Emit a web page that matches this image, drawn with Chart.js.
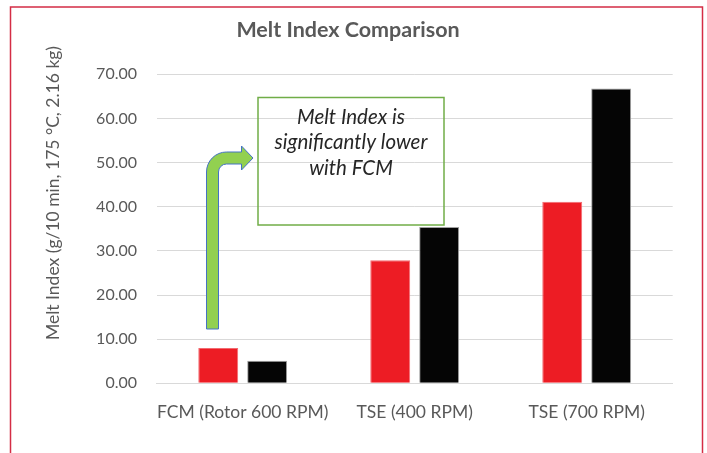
<!DOCTYPE html>
<html>
<head>
<meta charset="utf-8">
<script src="https://cdn.jsdelivr.net/npm/chart.js@4"></script>
<style>
    html, body { margin: 0; padding: 0; background: #fff; }
    #wrap { width: 707px; height: 453px; position: relative; }
</style>
</head>
<body>
<div id="wrap"><canvas id="melt-index"></canvas></div>
<script>
const categories = ['FCM (Rotor 600 RPM)', 'TSE (400 RPM)', 'TSE (700 RPM)'];
const redSeries = [8.0, 27.9, 41.1];
const blackSeries = [5.1, 35.4, 66.8];
const yTicks = [0, 10, 20, 30, 40, 50, 60, 70];
const noteLines = ['Melt Index is', 'significantly lower', 'with FCM'];
const yTitle = 'Melt Index (g/10 min, 175 °C, 2.16 kg)';

const grey = '#595959';

// frame, axis title, note box and bent arrow drawn over the chart
const overlay = {
    id: 'overlay',
    beforeDraw(chart) {
        const ctx = chart.ctx;
        ctx.save();
        ctx.strokeStyle = '#d42d45';
        ctx.lineWidth = 1.5;
        ctx.strokeRect(10.5, 7, 692, 460);
        ctx.restore();
    },
    afterDraw(chart) {
        const ctx = chart.ctx;
        ctx.save();

        // y axis title
        ctx.translate(53, 193);
        ctx.rotate(-Math.PI / 2);
        ctx.font = '17.5px Lato';
        ctx.fillStyle = grey;
        ctx.textAlign = 'center';
        ctx.textBaseline = 'middle';
        ctx.fillText(yTitle, 0, 0);
        ctx.setTransform(1, 0, 0, 1, 0, 0);

        // note box
        ctx.strokeStyle = '#70ad47';
        ctx.lineWidth = 1.5;
        ctx.strokeRect(258, 97.5, 186, 127.5);
        ctx.font = 'italic 20.5px Lato';
        ctx.fillStyle = '#262626';
        noteLines.forEach((t, i) => ctx.fillText(t, 351, 117 + i * 25.8));

        // bent up arrow
        ctx.beginPath();
        ctx.moveTo(206.5, 329);
        ctx.lineTo(206.5, 172);
        ctx.arcTo(206.5, 152, 226.5, 152, 20);
        ctx.lineTo(241.5, 152);
        ctx.lineTo(241.5, 146);
        ctx.lineTo(253, 158);
        ctx.lineTo(241.5, 170);
        ctx.lineTo(241.5, 164);
        ctx.lineTo(226.5, 164);
        ctx.arcTo(218.5, 164, 218.5, 172, 8);
        ctx.lineTo(218.5, 329);
        ctx.closePath();
        ctx.fillStyle = '#92d050';
        ctx.fill();
        ctx.strokeStyle = '#4472c4';
        ctx.lineWidth = 1;
        ctx.stroke();
        ctx.restore();
    }
};

const ctx = document.getElementById('melt-index').getContext('2d');
new Chart(ctx, {
    type: 'bar',
    data: {
        labels: categories,
        datasets: [
            {
                label: 'Series1',
                data: redSeries,
                backgroundColor: '#ed1c24',
                borderColor: '#f26a70',
                borderWidth: 1
            },
            {
                label: 'Series2',
                data: blackSeries,
                backgroundColor: '#050505',
                borderColor: '#a0a0a0',
                borderWidth: 1
            }
        ]
    },
    options: {
        responsive: true,
        maintainAspectRatio: false,
        animation: false,
        categoryPercentage: 0.569,
        barPercentage: 0.816,
        layout: { padding: { left: 0, right: 11, top: 0, bottom: 0 } },
        plugins: {
            legend: { display: false },
            tooltip: { enabled: false },
            title: {
                display: true,
                text: 'Melt Index Comparison',
                color: grey,
                font: { family: 'Lato', size: 21.5, weight: 'bold' },
                padding: { top: 17.4, bottom: 31.1 }
            }
        },
        scales: {
            x: {
                grid: { display: false, drawTicks: false },
                border: { display: true, color: '#d9d9d9' },
                ticks: {
                    color: grey,
                    font: { family: 'Lato', size: 17.5 },
                    padding: 18.7,
                    maxRotation: 0,
                    autoSkip: false
                },
                afterFit: s => { s.height = 453 - 383.3; }
            },
            y: {
                min: 0,
                max: 70,
                afterBuildTicks: s => { s.ticks = yTicks.map(v => ({ value: v })); },
                grid: { color: '#d9d9d9', drawTicks: false },
                border: { display: false },
                ticks: {
                    color: grey,
                    font: { family: 'Lato', size: 16 },
                    padding: 19.7,
                    callback: v => v.toFixed(2)
                },
                afterFit: s => { s.width = 156.7; }
            },
            // empty right-hand gutter so the plot ends where the reference does
            gutter: {
                position: 'right',
                grid: { display: false, drawTicks: false },
                border: { display: false },
                ticks: { display: false },
                afterFit: s => { s.width = 23.3; }
            }
        }
    },
    plugins: [overlay]
});
</script>
</body>
</html>
